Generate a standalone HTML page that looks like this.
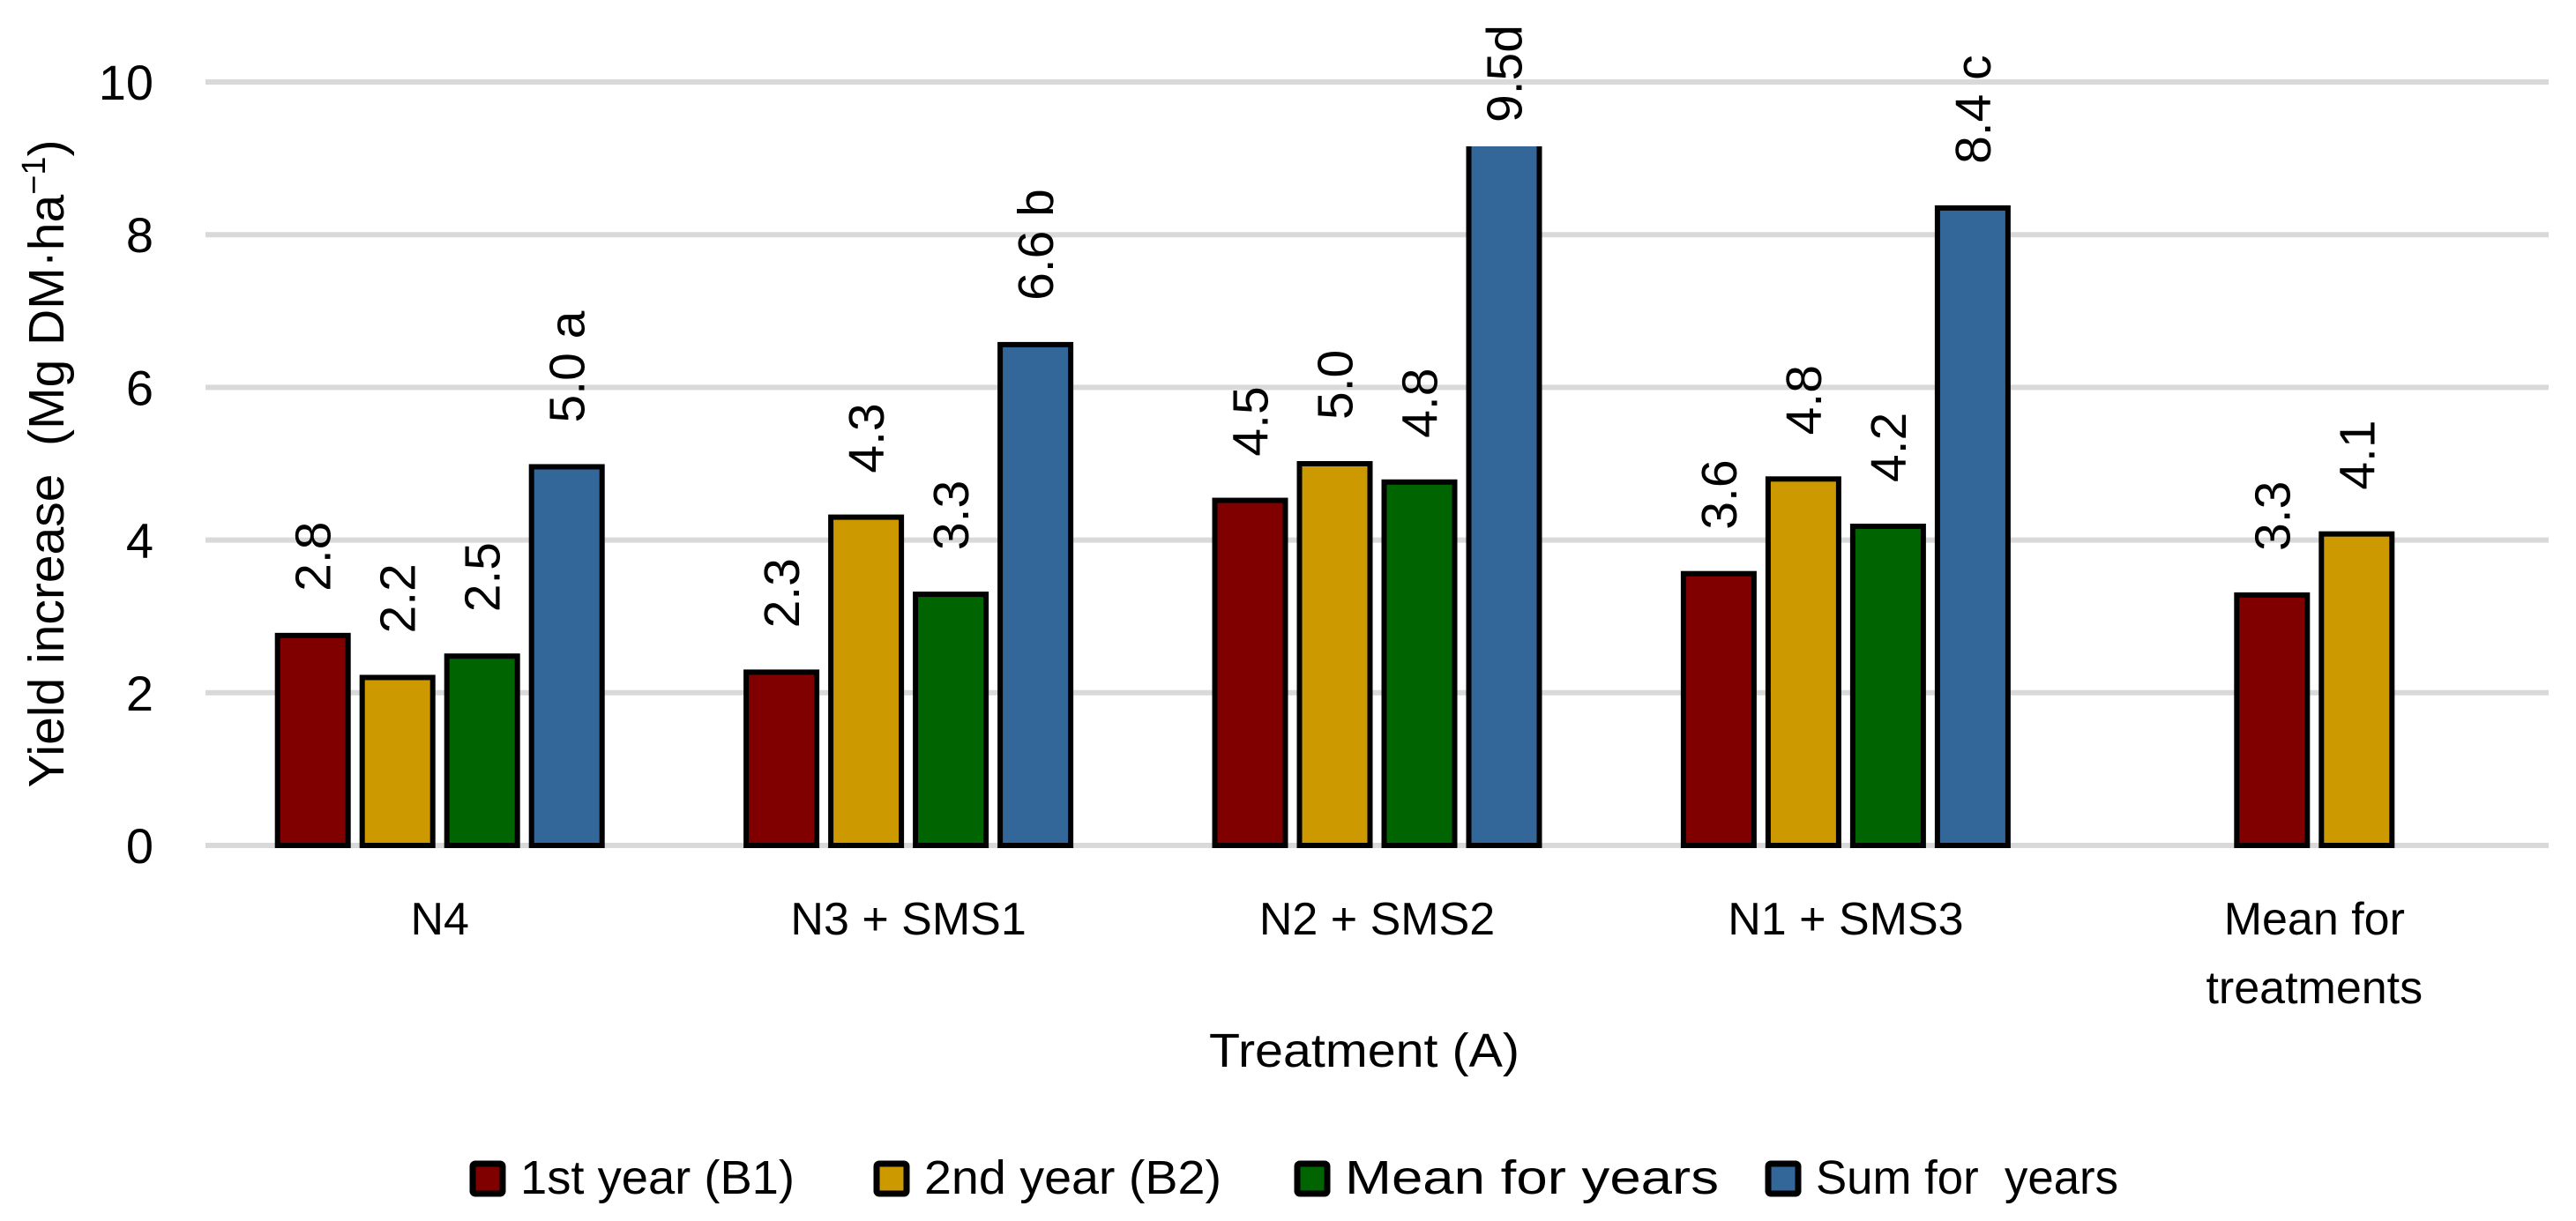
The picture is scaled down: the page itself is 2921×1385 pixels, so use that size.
<!DOCTYPE html>
<html><head><meta charset="utf-8"><style>html,body{margin:0;padding:0;background:#fff}svg{display:block}text{font-family:"Liberation Sans",sans-serif;fill:#000;white-space:pre}</style></head>
<body>
<svg id="chart" width="2921" height="1385" viewBox="0 0 2921 1385" xmlns="http://www.w3.org/2000/svg">
<defs><clipPath id="plotclip"><rect x="0" y="166" width="2921" height="900"/></clipPath></defs>
<g id="grid"></g>
<g id="yticks"></g>
<g id="bars" clip-path="url(#plotclip)"></g>
<g id="labels"></g>
<g id="xlabels"></g>
<text transform="translate(72,526) rotate(-90)" text-anchor="middle" font-size="57">Yield increase  (Mg DM·ha<tspan font-size="38" dy="-21">−1</tspan><tspan dy="21">)</tspan></text>
<text x="1547" y="1210" text-anchor="middle" font-size="54" textLength="352" lengthAdjust="spacingAndGlyphs">Treatment (A)</text>
<g id="legend"></g>
</svg>
<script>
const categories = [["N4"], ["N3 + SMS1"], ["N2 + SMS2"], ["N1 + SMS3"], ["Mean for", "treatments"]];
const seriesNames = ["1st year (B1)", "2nd year (B2)", "Mean for years", "Sum for  years"];
const year1 = [2.75, 2.27, 4.52, 3.56, 3.28];
const year2 = [2.2, 4.3, 5.0, 4.8, 4.08];
const meanYears = [2.48, 3.29, 4.76, 4.18, null];
const sumYears = [4.96, 6.56, 9.52, 8.35, null];
const year1Labels = ["2.8", "2.3", "4.5", "3.6", "3.3"];
const year2Labels = ["2.2", "4.3", "5.0", "4.8", "4.1"];
const meanLabels = ["2.5", "3.3", "4.8", "4.2", ""];
const sumLabels = ["5.0 a", "6.6 b", "9.5d", "8.4 c", ""];
const yTicks = [0, 2, 4, 6, 8, 10];

const colors = ["#800000", "#cc9900", "#006400", "#336699"];
const series = [year1, year2, meanYears, sumYears];
const seriesLabels = [year1Labels, year2Labels, meanLabels, sumLabels];
const NS = "http://www.w3.org/2000/svg";
const X0 = 233, X1 = 2890, Y0 = 959, YTOP = 93;
const catW = (X1 - X0) / categories.length;
const y = v => Y0 - (v / 10) * (Y0 - YTOP);
const xc = i => X0 + catW * (i + 0.5);
const step = 96, bw = 80, clipTop = 168;
function mk(tag, attrs, parent) { const e = document.createElementNS(NS, tag); for (const k in attrs) e.setAttribute(k, attrs[k]); parent.appendChild(e); return e; }

const grid = document.getElementById("grid"), yt = document.getElementById("yticks");
yTicks.forEach(t => {
  const l = mk("line", {x1: X0, x2: X1, y1: y(t), y2: y(t), stroke: "#d9d9d9", "stroke-width": 6}, grid);
  
  
  const tx = mk("text", {x: 174, y: y(t) + 20, "text-anchor": "end", "font-size": 56}, yt);
  tx.textContent = t;
  
  
});

const bars = document.getElementById("bars"), labels = document.getElementById("labels");
categories.forEach((c, i) => {
  const present = series.map((s, k) => k).filter(k => series[k][i] != null);
  const n = present.length;
  present.forEach((k, j) => {
    const v = series[k][i];
    const cx = xc(i) + (j - (n - 1) / 2) * step;
    const top = y(v);
    const r = mk("rect", {x: cx - bw / 2, y: top, width: bw, height: Y0 - top, fill: colors[k], stroke: "#000", "stroke-width": 6}, bars);
    
    
    const clipped = top < clipTop;
    const base = clipped ? clipTop - 29 : top - 50;
    const t = mk("text", {transform: "translate(" + (cx + 20) + "," + base + ") rotate(-90)", "font-size": 57}, labels);
    t.textContent = seriesLabels[k][i];
    
    
  });
  const xl = document.getElementById("xlabels");
  c.forEach((line, li) => {
    const t = mk("text", {x: xc(i), y: 1060 + li * 78, "text-anchor": "middle", "font-size": 52}, xl);
    t.textContent = line;
    
    
  });
});

const legend = document.getElementById("legend");
const lgX = [533, 991, 1468, 2002], lgLen = [311, 337, 424, 343];
seriesNames.forEach((s, k) => {
  const r = mk("rect", {x: lgX[k] + 3, y: 1320, width: 34, height: 34, fill: colors[k], stroke: "#000", "stroke-width": 7, rx: 3}, legend);
  
  
  const t = mk("text", {x: lgX[k] + 57, y: 1354, "font-size": 54, textLength: lgLen[k], lengthAdjust: "spacingAndGlyphs"}, legend);
  t.textContent = s;
  
  
});
</script>
</body></html>
